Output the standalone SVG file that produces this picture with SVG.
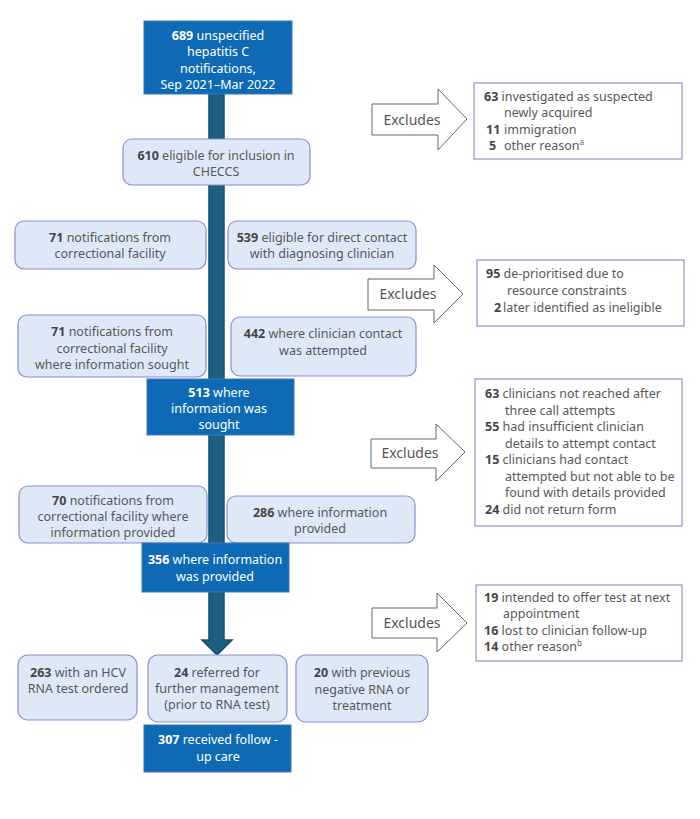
<svg xmlns="http://www.w3.org/2000/svg" width="700" height="819" viewBox="0 0 700 819">
<style>
  text { font-family: "Noto Sans", "Liberation Sans", sans-serif; font-size: 12.5px; fill: #585858; }
  .c { text-anchor: middle; }
  .b { font-weight: bold; fill: #454545; }
  .darkbox { fill: #0e6ab4; stroke: #3a78b8; stroke-width: 1; }
  text.w, text.w tspan.b { fill: #fff; }
  .light { fill: #dde9f7; stroke: #8e8ed2; stroke-width: 1.2; }
  .excl { fill: #fff; stroke: #9a9ad0; stroke-width: 1.3; }
  .arrow { fill: #fff; stroke: #666; stroke-width: 1; }
  .exl { font-size: 14px; fill: #555; }
</style>

<g id="connectors">
  <path d="M209,94 L224,94 L224,640 L232,640 L217,655 L202,640 L209,640 Z" fill="#1c5f80" stroke="#154f6c" stroke-width="1.5"/>
</g>

<g id="n689">
  <rect class="darkbox" x="144" y="21" width="148" height="73"/>
  <text class="c w" x="218" y="39.5"><tspan class="b">689</tspan> unspecified</text>
  <text class="c w" x="218" y="56">hepatitis C</text>
  <text class="c w" x="218" y="72.5">notifications,</text>
  <text class="c w" x="218" y="89">Sep 2021–Mar 2022</text>
</g>

<g id="ex1arrow">
  <path class="arrow" d="M372,104 L438,104 L438,89 L467,119 L438,150 L438,135 L372,135 Z"/>
  <text class="c exl" x="412" y="125">Excludes</text>
</g>
<g id="ex1">
  <rect class="excl" x="474" y="83" width="208" height="76"/>
  <text x="484" y="101"><tspan class="b">63</tspan> investigated as suspected</text>
  <text x="504" y="117">newly acquired</text>
  <text x="486" y="134"><tspan class="b">11</tspan><tspan x="504">immigration</tspan></text>
  <text x="489" y="150"><tspan class="b">5</tspan><tspan x="504">other reason</tspan><tspan dy="-5" font-size="8">a</tspan></text>
</g>

<g id="n610">
  <rect class="light" x="123" y="139" width="187" height="46" rx="9"/>
  <text class="c" x="216" y="160"><tspan class="b">610</tspan> eligible for inclusion in</text>
  <text class="c" x="216" y="176">CHECCS</text>
</g>

<g id="n71a">
  <rect class="light" x="15" y="221" width="191" height="48" rx="9"/>
  <text class="c" x="110" y="242"><tspan class="b">71</tspan> notifications from</text>
  <text class="c" x="110" y="258">correctional facility</text>
</g>
<g id="n539">
  <rect class="light" x="228" y="221" width="188" height="48" rx="9"/>
  <text class="c" x="322" y="242"><tspan class="b">539</tspan> eligible for direct contact</text>
  <text class="c" x="322" y="258">with diagnosing clinician</text>
</g>

<g id="ex2arrow">
  <path class="arrow" d="M368,279 L434,279 L434,265 L463,294 L434,323 L434,310 L368,310 Z"/>
  <text class="c exl" x="408" y="299">Excludes</text>
</g>
<g id="ex2">
  <rect class="excl" x="477" y="260" width="207" height="66"/>
  <text x="486" y="278"><tspan class="b">95</tspan> de-prioritised due to</text>
  <text x="507" y="295">resource constraints</text>
  <text x="494" y="312"><tspan class="b">2</tspan><tspan x="503">later identified as ineligible</tspan></text>
</g>

<g id="n71b">
  <rect class="light" x="18" y="315" width="188" height="62" rx="9"/>
  <text class="c" x="112" y="336"><tspan class="b">71</tspan> notifications from</text>
  <text class="c" x="112" y="352.5">correctional facility</text>
  <text class="c" x="112" y="369">where information sought</text>
</g>
<g id="n442">
  <rect class="light" x="231" y="317" width="185" height="59" rx="9"/>
  <text class="c" x="323" y="338"><tspan class="b">442</tspan> where clinician contact</text>
  <text class="c" x="323" y="354.5">was attempted</text>
</g>

<g id="n513">
  <rect class="darkbox" x="147" y="379" width="147" height="56"/>
  <text class="c w" x="219" y="397"><tspan class="b">513</tspan> where</text>
  <text class="c w" x="219" y="413">information was</text>
  <text class="c w" x="219" y="429">sought</text>
</g>

<g id="ex3arrow">
  <path class="arrow" d="M371,439 L436,439 L436,424 L465,452 L436,481 L436,468 L371,468 Z"/>
  <text class="c exl" x="410" y="458">Excludes</text>
</g>
<g id="ex3">
  <rect class="excl" x="475" y="379" width="207" height="147"/>
  <text x="485" y="398"><tspan class="b">63</tspan> clinicians not reached after</text>
  <text x="505" y="414.5">three call attempts</text>
  <text x="485" y="431"><tspan class="b">55</tspan> had insufficient clinician</text>
  <text x="505" y="447.5">details to attempt contact</text>
  <text x="485" y="464"><tspan class="b">15</tspan> clinicians had contact</text>
  <text x="505" y="480.5">attempted but not able to be</text>
  <text x="505" y="497">found with details provided</text>
  <text x="485" y="513.5"><tspan class="b">24</tspan> did not return form</text>
</g>

<g id="n70">
  <rect class="light" x="19" y="486" width="188" height="57" rx="9"/>
  <text class="c" x="113" y="505"><tspan class="b">70</tspan> notifications from</text>
  <text class="c" x="113" y="521">correctional facility where</text>
  <text class="c" x="113" y="537">information provided</text>
</g>
<g id="n286">
  <rect class="light" x="227" y="496" width="188" height="47" rx="9"/>
  <text class="c" x="320" y="517"><tspan class="b">286</tspan> where information</text>
  <text class="c" x="320" y="533">provided</text>
</g>

<g id="n356">
  <rect class="darkbox" x="142" y="543" width="147" height="49"/>
  <text class="c w" x="215" y="564"><tspan class="b">356</tspan> where information</text>
  <text class="c w" x="215" y="581">was provided</text>
</g>

<g id="ex4arrow">
  <path class="arrow" d="M372,608 L437,608 L437,593 L467,623 L437,652 L437,638 L372,638 Z"/>
  <text class="c exl" x="412" y="628">Excludes</text>
</g>
<g id="ex4">
  <rect class="excl" x="476" y="585" width="206" height="76"/>
  <text x="484" y="602"><tspan class="b">19</tspan> intended to offer test at next</text>
  <text x="503" y="618">appointment</text>
  <text x="484" y="634.5"><tspan class="b">16</tspan> lost to clinician follow-up</text>
  <text x="484" y="651"><tspan class="b">14</tspan> other reason<tspan dy="-5" font-size="8">b</tspan></text>
</g>

<g id="n263">
  <rect class="light" x="18" y="655" width="119" height="65" rx="10"/>
  <text class="c" x="78" y="677"><tspan class="b">263</tspan> with an HCV</text>
  <text class="c" x="78" y="693">RNA test ordered</text>
</g>
<g id="n24">
  <rect class="light" x="148" y="655" width="139" height="67" rx="10"/>
  <text class="c" x="217" y="677"><tspan class="b">24</tspan> referred for</text>
  <text class="c" x="217" y="693">further management</text>
  <text class="c" x="217" y="709">(prior to RNA test)</text>
</g>
<g id="n20">
  <rect class="light" x="296" y="655" width="132" height="67" rx="10"/>
  <text class="c" x="362" y="677"><tspan class="b">20</tspan> with previous</text>
  <text class="c" x="362" y="693.5">negative RNA or</text>
  <text class="c" x="362" y="710">treatment</text>
</g>

<g id="n307">
  <rect class="darkbox" x="144" y="725" width="147" height="47"/>
  <text class="c w" x="218" y="744"><tspan class="b">307</tspan> received follow  -</text>
  <text class="c w" x="218" y="761">up care</text>
</g>
</svg>
